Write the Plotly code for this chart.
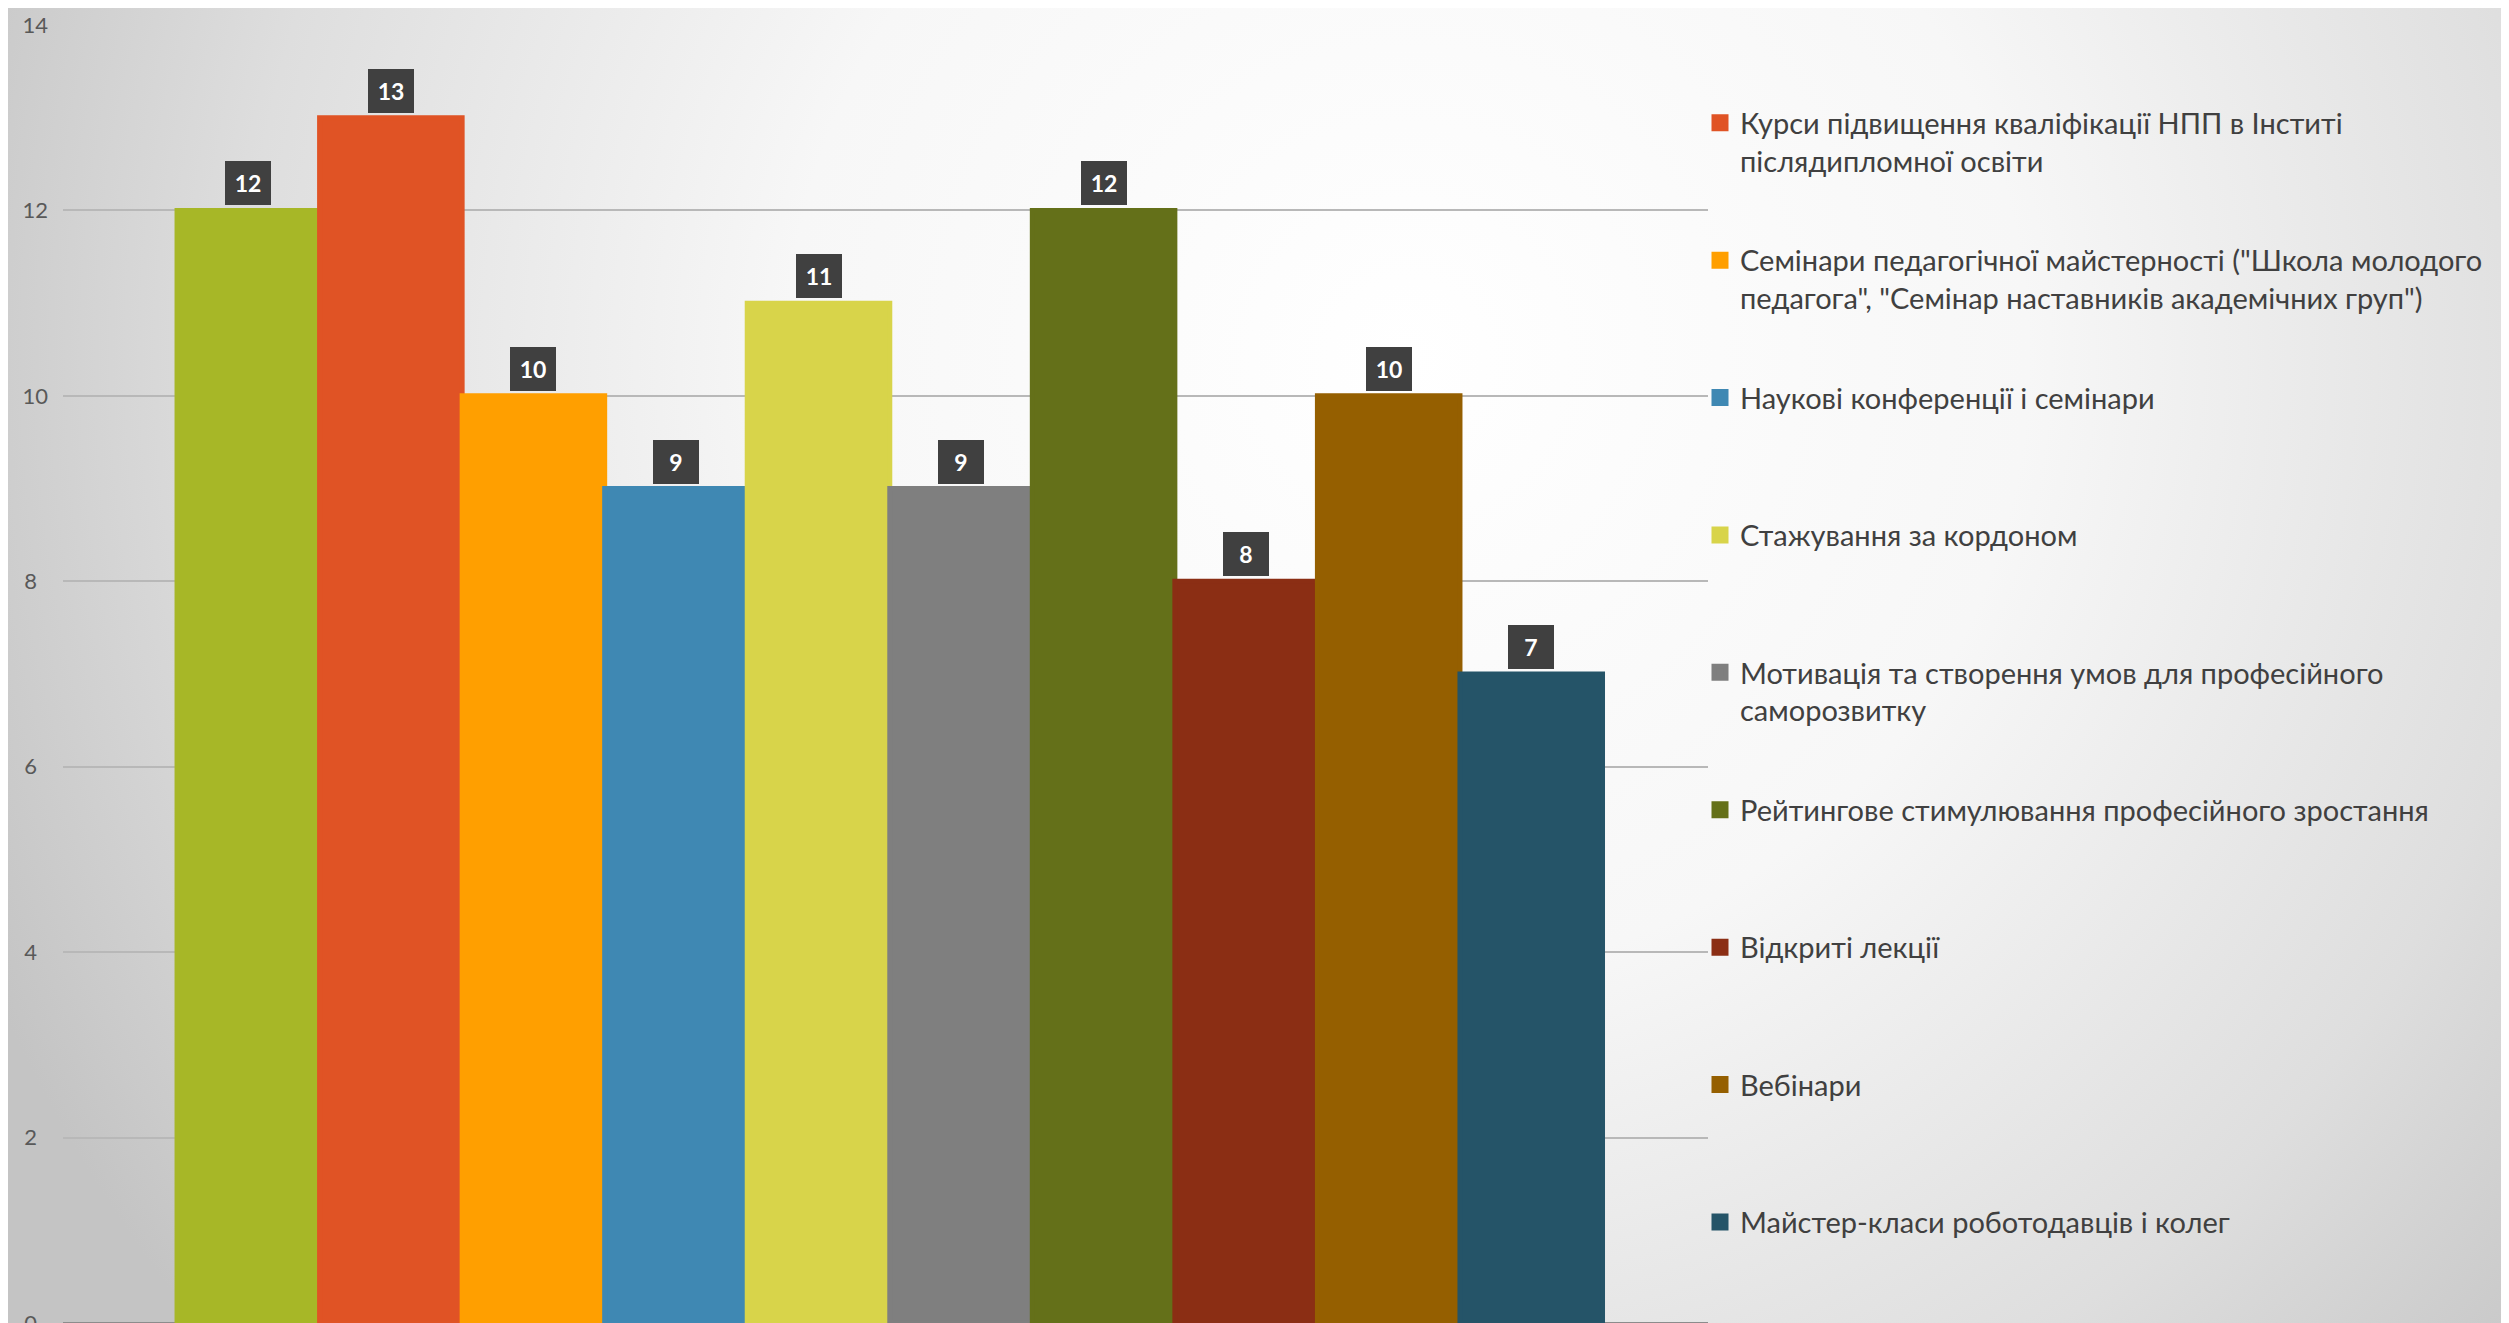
import base64
import plotly.graph_objects as go

# ---------------- data ----------------
names = [
    "Онлайн-курси (Prometheus)",
    "Курси підвищення кваліфікації НПП в Інститі<br>післядипломної освіти",
    "Семінари педагогічної майстерності (\"Школа молодого<br>педагога\", \"Семінар наставників академічних груп\")",
    "Наукові конференції і семінари",
    "Стажування за кордоном",
    "Мотивація та створення умов для професійного<br>саморозвитку",
    "Рейтингове стимулювання професійного зростання",
    "Відкриті лекції",
    "Вебінари",
    "Майстер-класи роботодавців і колег",
]
values = [12, 13, 10, 9, 11, 9, 12, 8, 10, 7]
colors = ["#A7B727", "#E05325", "#FF9F00", "#3F88B3", "#D8D44A",
          "#7F7F7F", "#647019", "#8B2E14", "#955F00", "#255468"]
y_ticks = [0, 2, 4, 6, 8, 10, 12, 14]
y_tick_labels = ["0\u2002", "2\u2002", "4\u2002", "6\u2002", "8\u2002", "10", "12", "14"]

W, H = 2509, 1323

# background radial gradient (style only)
svg = (
    f"<svg xmlns='http://www.w3.org/2000/svg' width='{W}' height='{H}'>"
    "<defs><radialGradient id='g' gradientUnits='userSpaceOnUse' cx='1400' cy='350' r='1550'>"
    "<stop offset='0' stop-color='#ffffff'/>"
    "<stop offset='0.4' stop-color='#f7f7f7'/>"
    "<stop offset='0.75' stop-color='#dedede'/>"
    "<stop offset='1' stop-color='#c4c4c4'/>"
    "</radialGradient></defs>"
    f"<rect width='{W}' height='{H}' fill='url(#g)'/></svg>"
)
bg_uri = "data:image/svg+xml;base64," + base64.b64encode(svg.encode()).decode()

fig = go.Figure()
n_items = len(names)
for i, (n, v, c) in enumerate(zip(names, values, colors)):
    label = n if ("<br>" in n or i == n_items - 1) else n + "<br>&nbsp;"
    fig.add_trace(go.Bar(
        x=[i], y=[v], name=label, width=1,
        marker=dict(color=c, line=dict(width=5, color=c)),
        legendgroup=f"g{i}",
        hovertemplate=n.replace("<br>", " ") + ": %{y}<extra></extra>",
    ))
    fig.add_annotation(
        x=i, y=v, xref="x", yref="y", text=f"<b>{v}</b>",
        showarrow=False, yanchor="bottom", yshift=5,
        bgcolor="#404040", borderpad=1, borderwidth=0,
        width=44, height=42,
        font=dict(family="Lato", size=23, color="#ffffff"),
    )

fig.update_layout(
    width=W, height=H,
    margin=dict(l=0, r=0, t=0, b=0, autoexpand=False),
    paper_bgcolor="rgba(0,0,0,0)",
    plot_bgcolor="rgba(0,0,0,0)",
    barmode="overlay",
    showlegend=True,
    images=[dict(source=bg_uri, xref="paper", yref="paper", x=0, y=1,
                 sizex=1, sizey=1, sizing="stretch", layer="below",
                 xanchor="left", yanchor="top")],
    xaxis=dict(domain=[55 / W, 1700 / W], range=[-1.3, 10.24],
               showticklabels=False, showgrid=False, zeroline=False,
               showline=False, fixedrange=True),
    yaxis=dict(domain=[(H - 1315) / H, (H - 17) / H], range=[0, 14],
               tickvals=y_ticks, ticktext=y_tick_labels,
               showgrid=True, gridcolor="#b8b8b8", gridwidth=1.5,
               zeroline=True, zerolinecolor="#8c8c8c", zerolinewidth=1.5,
               showline=False, ticks="", ticklabelstandoff=14,
               ticklabeloverflow="allow",
               tickfont=dict(family="Lato", size=22, color="#595959"),
               fixedrange=True),
    legend=dict(
        x=1692 / W, xanchor="left", y=(H - 1240) / H, yanchor="bottom",
        orientation="v", traceorder="grouped", valign="top",
        tracegroupgap=59, bgcolor="rgba(0,0,0,0)", borderwidth=0,
        font=dict(family="Lato", size=29, color="#404040"),
        itemclick=False, itemdoubleclick=False,
    ),
    font=dict(family="Lato"),
)

fig.write_html("out.html")
